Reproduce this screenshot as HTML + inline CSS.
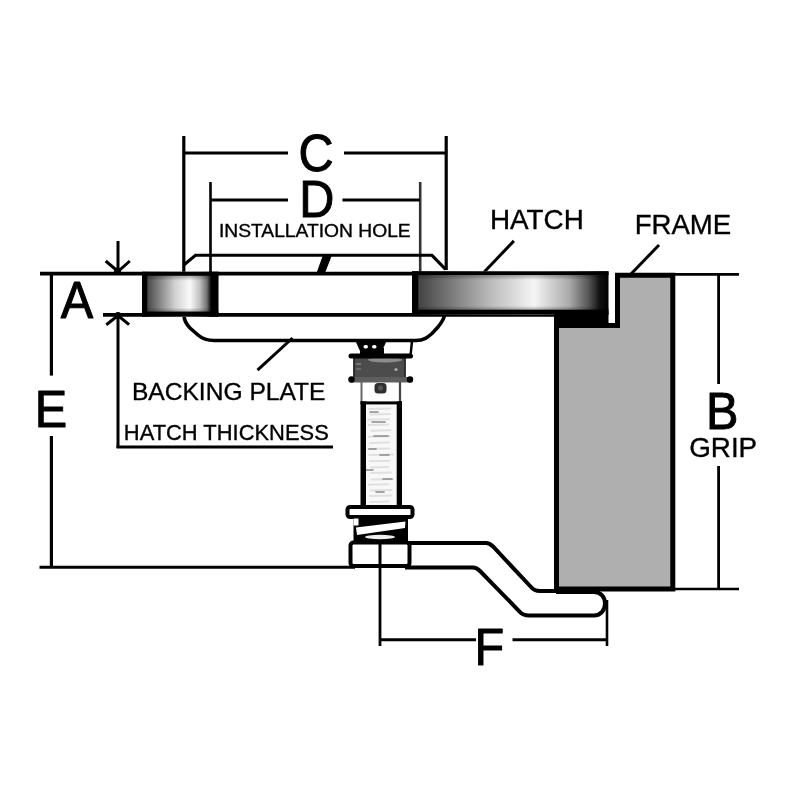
<!DOCTYPE html>
<html><head><meta charset="utf-8">
<style>
html,body{margin:0;padding:0;background:#fff;width:800px;height:800px;overflow:hidden}
svg{display:block;will-change:transform}
text{font-family:"Liberation Sans",sans-serif;fill:#000}
.s{stroke:#000;stroke-width:0.35;stroke-linejoin:round}
</style></head>
<body>
<svg width="800" height="800" viewBox="0 0 800 800">
<defs>
<linearGradient id="gl" x1="142" x2="218" y1="0" y2="0" gradientUnits="userSpaceOnUse">
<stop offset="0" stop-color="#000"/>
<stop offset="0.066" stop-color="#000"/>
<stop offset="0.075" stop-color="#4a4a4a"/>
<stop offset="0.24" stop-color="#888"/>
<stop offset="0.43" stop-color="#d0d0d0"/>
<stop offset="0.63" stop-color="#fafafa"/>
<stop offset="0.76" stop-color="#c0c0c0"/>
<stop offset="0.855" stop-color="#707070"/>
<stop offset="0.91" stop-color="#000"/>
<stop offset="1" stop-color="#000"/>
</linearGradient>
<linearGradient id="gr" x1="412" x2="608.5" y1="0" y2="0" gradientUnits="userSpaceOnUse">
<stop offset="0" stop-color="#000"/>
<stop offset="0.028" stop-color="#000"/>
<stop offset="0.035" stop-color="#444"/>
<stop offset="0.19" stop-color="#777"/>
<stop offset="0.4" stop-color="#bbb"/>
<stop offset="0.62" stop-color="#f5f5f5"/>
<stop offset="0.8" stop-color="#aaa"/>
<stop offset="0.9" stop-color="#555"/>
<stop offset="0.955" stop-color="#111"/>
<stop offset="1" stop-color="#000"/>
</linearGradient>
<linearGradient id="gv" x1="0" x2="0" y1="0" y2="1">
<stop offset="0" stop-color="#000" stop-opacity="1"/>
<stop offset="0.08" stop-color="#000" stop-opacity="1"/>
<stop offset="0.09" stop-color="#000" stop-opacity="0.3"/>
<stop offset="0.2" stop-color="#000" stop-opacity="0"/>
<stop offset="0.8" stop-color="#000" stop-opacity="0"/>
<stop offset="0.88" stop-color="#000" stop-opacity="0.25"/>
<stop offset="0.895" stop-color="#000" stop-opacity="1"/>
<stop offset="1" stop-color="#000" stop-opacity="1"/>
</linearGradient>
</defs>
<rect width="800" height="800" fill="#fff"/>

<g stroke="#000" fill="none" stroke-linecap="butt">
<!-- C dimension -->
<line x1="183.8" y1="136" x2="183.8" y2="273" stroke-width="3.2"/>
<line x1="446.2" y1="136" x2="446.2" y2="270" stroke-width="3.2"/>
<line x1="183" y1="153" x2="288" y2="153" stroke-width="3"/>
<line x1="344" y1="153" x2="446" y2="153" stroke-width="3"/>
<!-- D dimension -->
<line x1="210.5" y1="182" x2="210.5" y2="273" stroke-width="2.6"/>
<line x1="420.2" y1="182" x2="420.2" y2="273" stroke-width="2.6" stroke="#333"/>
<line x1="210" y1="200" x2="288" y2="200" stroke-width="3"/>
<line x1="342.5" y1="200" x2="420" y2="200" stroke-width="3"/>

<!-- backing plate -->
<path d="M183.8 265 L195.5 255.3 L432 255.3 L445.6 269.4" stroke-width="3.1"/>
<path d="M184 316 C184.5 321 186 324 190 328 L198 335 C202 338.5 206 340.5 214 340.5 L416 340.5 C424 340.5 428 337 432 333.5 L438 327 C442 322 443.5 320 444.3 316" stroke-width="3.6"/>

<!-- hatch lines -->
<line x1="40" y1="273.6" x2="420" y2="273.6" stroke-width="3.6"/>
<line x1="103" y1="314.8" x2="608" y2="314.8" stroke-width="3.8"/>

<!-- A dimension -->
<line x1="118" y1="241" x2="118" y2="272" stroke-width="3"/>
<path d="M105.7 261 L118 271.5 L129.8 261" stroke-width="3"/>
<circle cx="117.5" cy="271" r="3.5" fill="#000" stroke="none"/>
<line x1="118" y1="316" x2="118" y2="448" stroke-width="3"/>
<path d="M106.3 324.7 L118 315.5 L129.1 324.7" stroke-width="3"/>
<circle cx="118" cy="315.5" r="3.5" fill="#000" stroke="none"/>
<line x1="116.5" y1="447" x2="333" y2="447" stroke-width="3.2"/>

<!-- E dimension -->
<line x1="51.4" y1="274" x2="51.4" y2="375.6" stroke-width="3.2"/>
<line x1="51.4" y1="436" x2="51.4" y2="567" stroke-width="3.2"/>
<line x1="39.5" y1="567.3" x2="355" y2="567.3" stroke-width="3"/>

<!-- B dimension -->
<line x1="674" y1="274.4" x2="739" y2="274.4" stroke-width="2.6"/>
<line x1="674" y1="589" x2="739" y2="589" stroke-width="2.6"/>
<line x1="718.6" y1="274" x2="718.6" y2="384" stroke-width="2.8"/>
<line x1="718.6" y1="466" x2="718.6" y2="589" stroke-width="2.8"/>

<!-- F dimension -->
<line x1="380" y1="567" x2="380" y2="646" stroke-width="2.8"/>
<line x1="607" y1="600" x2="607" y2="646" stroke-width="2.6"/>
<line x1="380" y1="639.8" x2="476" y2="639.8" stroke-width="3"/>
<line x1="512.5" y1="639.8" x2="607" y2="639.8" stroke-width="3"/>

<!-- leaders -->
<line x1="513.9" y1="240.9" x2="484.2" y2="272" stroke-width="3"/>
<line x1="659" y1="245" x2="631" y2="274" stroke-width="3"/>
<line x1="292.5" y1="338" x2="257.5" y2="370.2" stroke-width="3"/>
</g>
<!-- installation hole slash -->
<path d="M323 255 L332 255 L325 273 L316.5 273 Z" fill="#000"/>

<!-- hatch left segment -->
<rect x="142" y="271.8" width="76.5" height="44.8" fill="url(#gl)"/>
<rect x="142" y="271.8" width="76.5" height="44.8" fill="url(#gv)"/>
<!-- hatch right segment -->
<rect x="412" y="271.3" width="196.5" height="43.2" fill="url(#gr)"/>
<rect x="412" y="271.3" width="196.5" height="43.2" fill="url(#gv)"/>
<rect x="554" y="313" width="54.5" height="13" fill="#000"/>

<!-- frame -->
<path d="M556.5 589 L556.5 325.5 L617.5 325.5 L617.5 275.3 L672.8 275.3 L672.8 589 Z" fill="#afafaf" stroke="#000" stroke-width="5"/>
<line x1="608.2" y1="271.8" x2="608.2" y2="321" stroke="#fff" stroke-width="0"/>

<!-- clamp arm -->
<path d="M405 543 L486 543 C489 543 491 544.5 493 546.5 L531 587 C533 589.5 536 591 540 591 L556 591" fill="none" stroke="#000" stroke-width="4"/>
<path d="M405 567.5 L473 567.5 C476 567.5 478 569 480 571 L520 612 C522 614.5 525 615.4 529 615.4 L594 615.4 C601 615.4 605 610 605 603.5 C605 597 601 592 594 592 L556 592" fill="none" stroke="#000" stroke-width="4"/>

<!-- bolt: upper insert -->
<path d="M355 340 L387 340 L382 351 L360 351 Z" fill="#000"/>
<rect x="360" y="348" width="24" height="8" fill="#000"/>
<rect x="363.5" y="345" width="4.5" height="3.5" rx="1.7" fill="#fff"/>
<rect x="372" y="345" width="4.5" height="3.5" rx="1.7" fill="#fff"/>
<line x1="412" y1="341" x2="410.5" y2="356" stroke="#000" stroke-width="2.5"/>
<rect x="353.5" y="356" width="52" height="22" fill="#4c4c4c"/>
<ellipse cx="385" cy="359.8" rx="17" ry="2.6" fill="#8c8c8c"/>
<line x1="354" y1="357" x2="354" y2="377" stroke="#222" stroke-width="1.6"/>
<line x1="405" y1="357" x2="405" y2="377" stroke="#222" stroke-width="1.6"/>
<line x1="356" y1="364" x2="361" y2="364" stroke="#888" stroke-width="1.4"/>
<line x1="356" y1="369" x2="361" y2="369" stroke="#777" stroke-width="1.4"/>
<circle cx="396" cy="369.5" r="1.6" fill="#aaa"/>
<rect x="348.5" y="353.5" width="64.5" height="5" rx="2.5" fill="#000"/>
<rect x="348.5" y="377" width="64.5" height="5.5" rx="2.5" fill="#5e5e5e"/>
<circle cx="351.5" cy="379.5" r="3.2" fill="#000"/>
<circle cx="410" cy="379.5" r="3.2" fill="#000"/>
<rect x="374.5" y="383" width="12" height="10.5" rx="3.5" fill="#2e2e2e"/>
<rect x="378" y="385.5" width="5" height="5" rx="1.5" fill="#555"/>
<line x1="361.5" y1="382" x2="361.5" y2="402" stroke="#666" stroke-width="2"/>
<line x1="400" y1="382" x2="400" y2="402" stroke="#444" stroke-width="2.2"/>

<!-- shaft -->
<rect x="363.3" y="402.9" width="36.2" height="103" fill="#f8f8f8"/>
<g stroke-width="2" stroke-linecap="round">
<line x1="369.0" y1="409.0" x2="390.3" y2="408.5" stroke="#e0e0e0"/>
<line x1="370.4" y1="414.6" x2="389.9" y2="414.1" stroke="#e0e0e0"/>
<line x1="368.1" y1="419.7" x2="388.8" y2="419.2" stroke="#e0e0e0"/>
<line x1="368.9" y1="425.0" x2="388.0" y2="424.5" stroke="#e0e0e0"/>
<line x1="371.3" y1="430.7" x2="390.6" y2="430.2" stroke="#e0e0e0"/>
<line x1="368.6" y1="436.7" x2="389.8" y2="436.2" stroke="#e0e0e0"/>
<line x1="370.1" y1="443.0" x2="389.3" y2="442.5" stroke="#e0e0e0"/>
<line x1="368.3" y1="449.0" x2="389.2" y2="448.5" stroke="#e0e0e0"/>
<line x1="369.2" y1="454.9" x2="392.8" y2="454.4" stroke="#e0e0e0"/>
<line x1="369.9" y1="461.2" x2="389.4" y2="460.7" stroke="#e0e0e0"/>
<line x1="370.9" y1="467.5" x2="388.4" y2="467.0" stroke="#e0e0e0"/>
<line x1="371.2" y1="473.1" x2="390.8" y2="472.6" stroke="#e0e0e0"/>
<line x1="371.5" y1="479.5" x2="392.5" y2="479.0" stroke="#e0e0e0"/>
<line x1="368.9" y1="484.7" x2="388.2" y2="484.2" stroke="#e0e0e0"/>
<line x1="370.5" y1="490.4" x2="391.5" y2="489.9" stroke="#e0e0e0"/>
<line x1="369.5" y1="496.1" x2="391.2" y2="495.6" stroke="#e0e0e0"/>
<line x1="370.3" y1="502.0" x2="388.5" y2="501.5" stroke="#e0e0e0"/>
<line x1="370" y1="412" x2="378" y2="412" stroke="#8a8a8a" stroke-width="1.6"/>
<line x1="372" y1="422" x2="385" y2="422" stroke="#8a8a8a" stroke-width="1.6"/>
<line x1="374" y1="436" x2="388" y2="436" stroke="#8a8a8a" stroke-width="1.6"/>
<line x1="369" y1="449" x2="376" y2="449" stroke="#8a8a8a" stroke-width="1.6"/>
<line x1="380" y1="455" x2="389" y2="455" stroke="#8a8a8a" stroke-width="1.6"/>
<line x1="366" y1="470" x2="373" y2="470" stroke="#8a8a8a" stroke-width="1.6"/>
<line x1="383" y1="479" x2="392" y2="479" stroke="#8a8a8a" stroke-width="1.6"/>
<line x1="376" y1="492" x2="384" y2="492" stroke="#8a8a8a" stroke-width="1.6"/>
</g>
<rect x="360.5" y="401.4" width="41.5" height="3" fill="#000"/>
<rect x="360.5" y="401.4" width="5.5" height="104" fill="#000"/>
<rect x="396.7" y="401.4" width="5.3" height="104" fill="#000"/>

<!-- washer -->
<rect x="347.5" y="507" width="65" height="10" rx="2.5" fill="#fff" stroke="#000" stroke-width="4"/>
<!-- spring -->
<path d="M353.5 518.5 L408 518.5 L408 541 L353.5 541 Z" fill="#000"/>
<path d="M356 527.5 L405.5 521.5 L405 528 L357 535 Z" fill="#fff"/>
<ellipse cx="380" cy="537" rx="15" ry="2.2" fill="#eee"/>
<rect x="353.5" y="518.5" width="5" height="7" fill="#fff"/>
<!-- nut -->
<rect x="350.5" y="542.5" width="59" height="23.5" rx="3" fill="#fff" stroke="#000" stroke-width="4"/>
<line x1="380" y1="542" x2="380" y2="567" stroke="#000" stroke-width="3"/>

<!-- labels -->
<text transform="translate(298.4,170.9) scale(0.935,1)" font-size="52" stroke="#000" stroke-width="1" stroke-linejoin="round">C</text>
<text transform="translate(299.2,217.4) scale(0.935,1)" font-size="52" stroke="#000" stroke-width="1" stroke-linejoin="round">D</text>
<text transform="translate(60.7,318.3) scale(0.935,1)" font-size="52" stroke="#000" stroke-width="1" stroke-linejoin="round">A</text>
<text transform="translate(34.7,426.5) scale(0.935,1)" font-size="52" stroke="#000" stroke-width="1" stroke-linejoin="round">E</text>
<text transform="translate(706,429.4) scale(0.935,1)" font-size="52" stroke="#000" stroke-width="1" stroke-linejoin="round">B</text>
<text transform="translate(474.5,665.2) scale(0.935,1)" font-size="52" stroke="#000" stroke-width="1" stroke-linejoin="round">F</text>
<text class="s" transform="translate(490,228.6) scale(1.02,1)" font-size="27.3">HATCH</text>
<text class="s" transform="translate(634.7,234.1) scale(1.03,1)" font-size="26.8">FRAME</text>
<text class="s" transform="translate(689.2,456.5) scale(1.03,1)" font-size="27">GRIP</text>
<text class="s" transform="translate(218.9,236.5) scale(1.076,1)" font-size="17.9">INSTALLATION HOLE</text>
<text class="s" transform="translate(131.9,399.5) scale(1,1)" font-size="24.6">BACKING PLATE</text>
<text class="s" transform="translate(123.85,440.1) scale(0.97,1)" font-size="22.6">HATCH THICKNESS</text>
</svg>
</body></html>
